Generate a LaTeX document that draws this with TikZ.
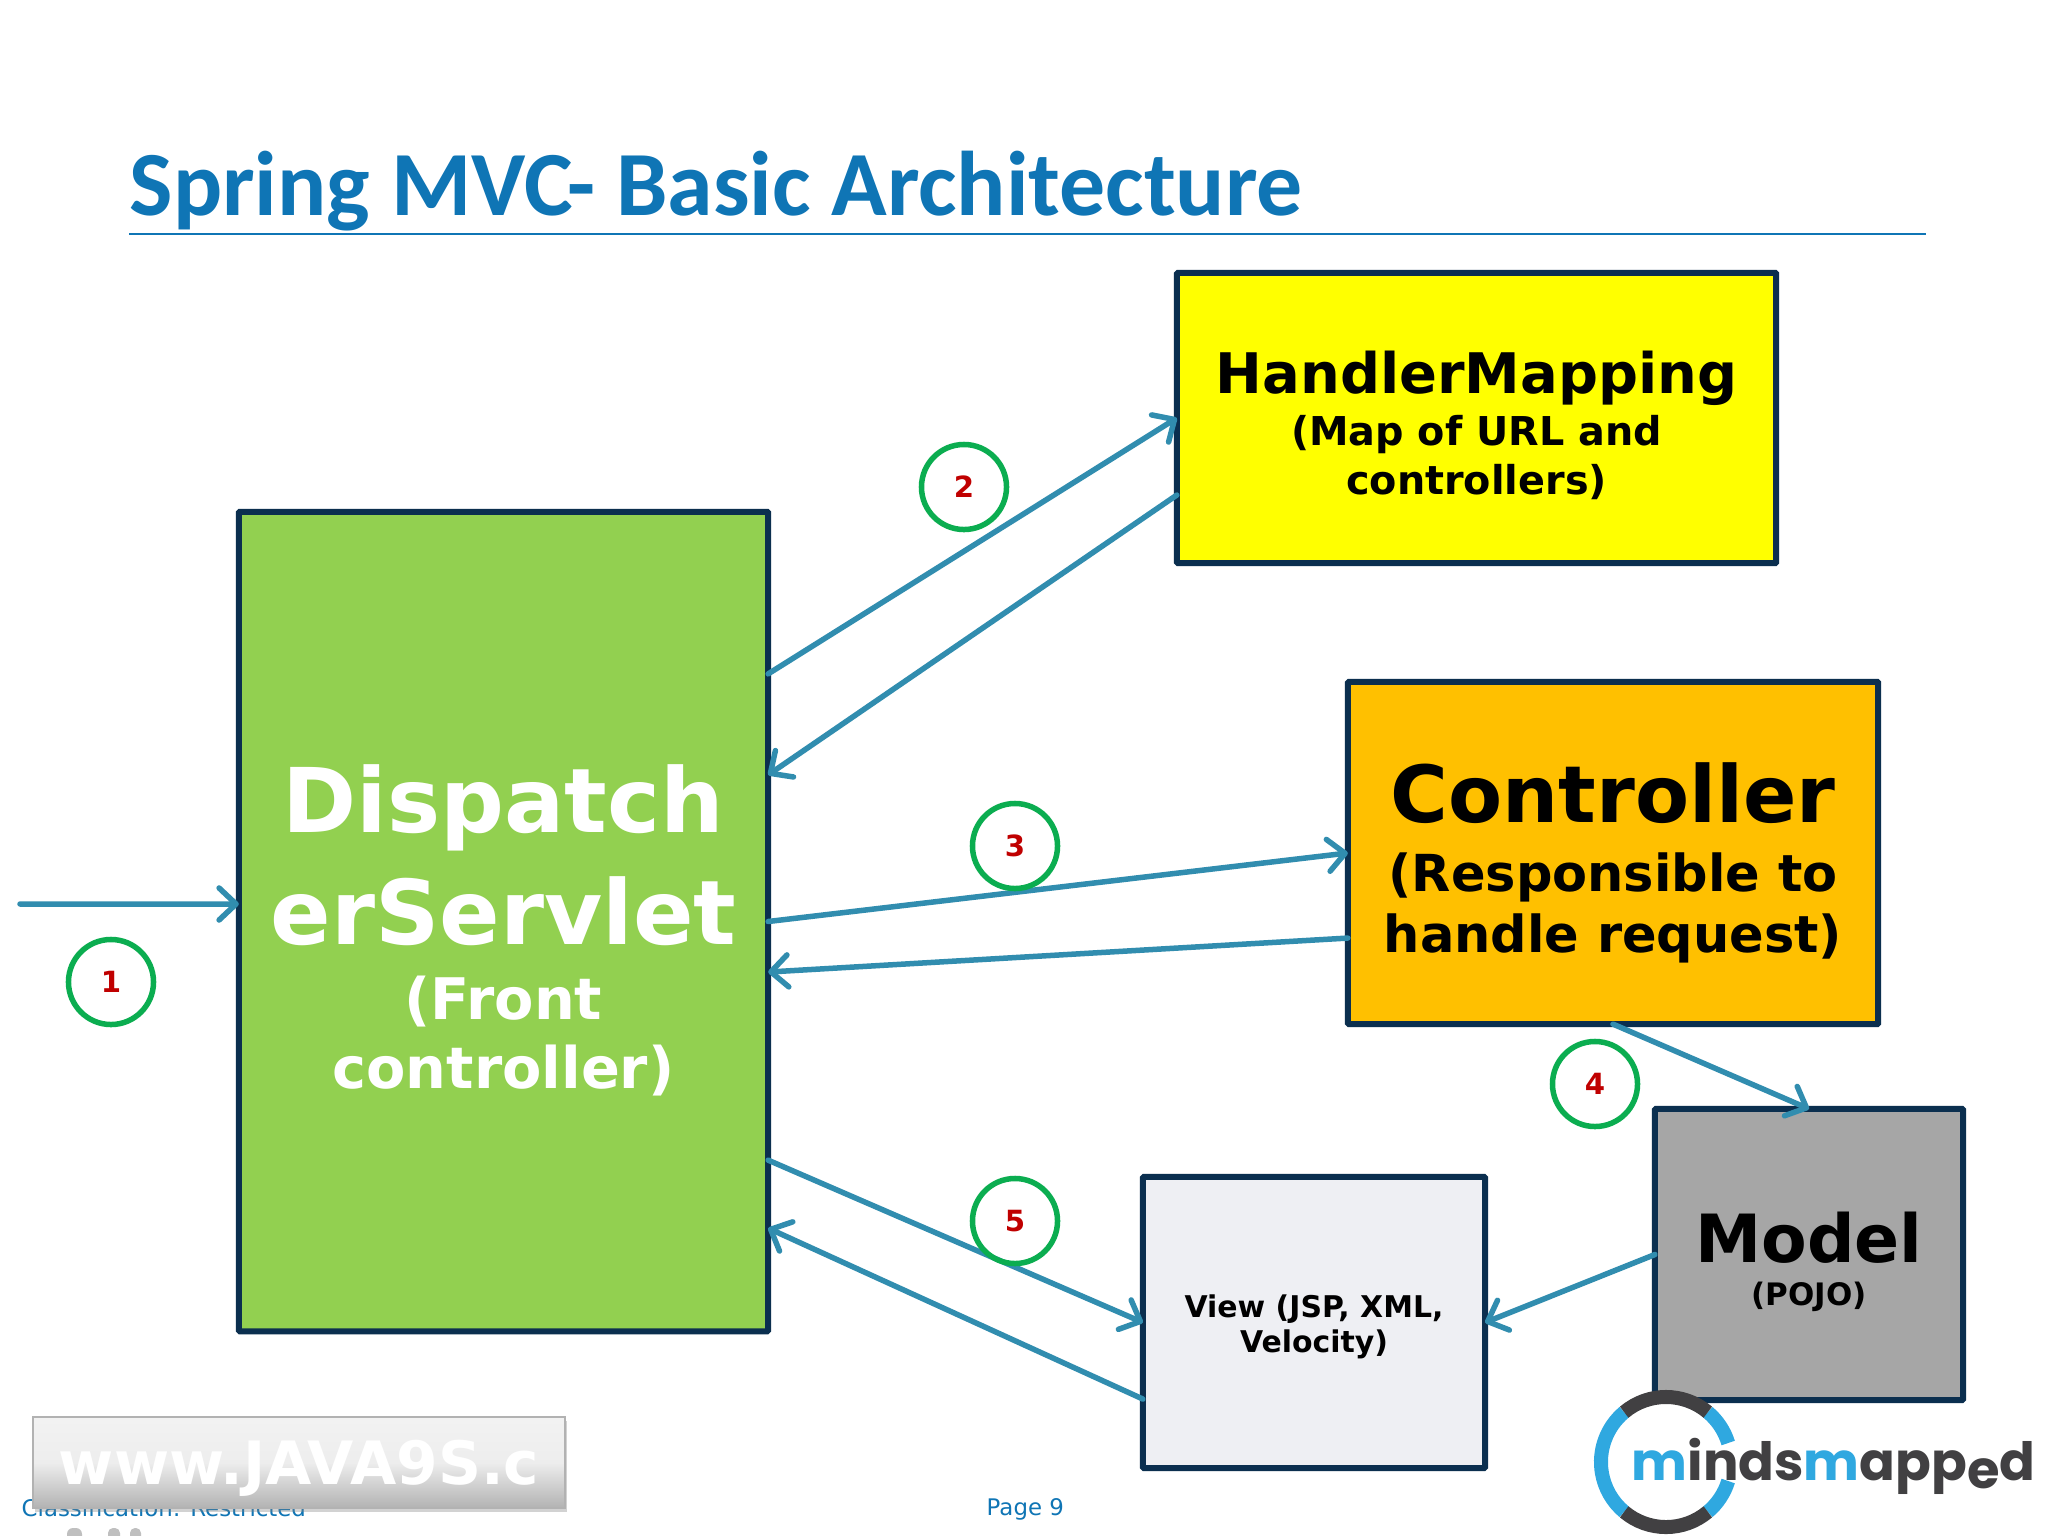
\documentclass[tikz,border=0pt]{standalone}
\usepackage{fontspec}
\setmainfont{DejaVu Sans}
\newfontfamily\titlefont{Carlito}
\newfontfamily\logofont{Poppins}
\usetikzlibrary{arrows.meta,calc,shadows}
\definecolor{titleblue}{HTML}{0F75B5}
\definecolor{edgeblue}{HTML}{318DAF}
\definecolor{boxline}{HTML}{0B2F4F}
\definecolor{stepgreen}{HTML}{0BAD50}
\definecolor{stepred}{HTML}{C00000}
\definecolor{logoblue}{HTML}{2FA8E0}
\definecolor{logodark}{HTML}{414042}
\definecolor{dispgreen}{HTML}{92D050}
\definecolor{hmyellow}{HTML}{FFFF00}
\definecolor{ctrlorange}{HTML}{FFC000}
\definecolor{modelgray}{HTML}{A6A6A6}
\definecolor{viewgray}{HTML}{EEEFF3}
\newcommand{\fsz}[1]{\fontsize{#1}{12}\selectfont}
\begin{document}
\begin{tikzpicture}[
    x=0.01cm, y=-0.01cm,
    box/.style={rectangle, draw=boxline, line width=0.06cm, outer sep=0pt, inner sep=0pt, align=center, font=\bfseries, rounded corners=0.01cm},
    conn/.style={draw=edgeblue, line width=0.055cm, line cap=round, -{Straight Barb[length=0.17cm,width=0.32cm,round]}},
    stepmark/.style={circle, draw=stepgreen, line width=0.055cm, minimum size=0.85cm, inner sep=0pt, text=stepred, font=\bfseries\fsz{8.3}},
    foot/.style={text=titleblue, inner sep=0pt, anchor=base west, font=\fsz{6.5}}
]
\useasboundingbox (0,0) rectangle (2048,1536);
\fill[white] (0,0) rectangle (2048,1536);

% Title
\node[anchor=base west, inner sep=0pt, text=titleblue, font=\titlefont\bfseries\fsz{26.1}] (title) at (129,215) {Spring MVC- Basic Architecture};
\coordinate (ruleL) at (129,234);
\coordinate (ruleR) at (1926,234);
\draw[titleblue, line width=0.012cm] (ruleL) -- (ruleR);

% Boxes (the font goes back to default after each \\, so each line sets its own)
\node[box, fill=dispgreen, text=white, minimum width=5.29cm, minimum height=8.19cm] (disp) at (503.5,921.5)
    {\rule{0pt}{0.855cm}\fsz{25.4}Dispatch\\[6.3pt]\fsz{25.4}erServlet\\[7.5pt]\fsz{16.3}(Front\\[4.1pt]\fsz{16.3}controller)};
\node[box, fill=hmyellow, minimum width=5.99cm, minimum height=2.90cm] (hm) at (1476.5,418)
    {\rule{0pt}{0.57cm}\fsz{15.9}HandlerMapping\\[1.85pt]\fsz{11.3}(Map of URL and\\[1.85pt]\fsz{11.3}controllers)};
\node[box, fill=ctrlorange, minimum width=5.30cm, minimum height=3.42cm] (ctrl) at (1613,853)
    {\rule{0pt}{0.79cm}\fsz{22.4}Controller\\[7.8pt]\fsz{14.5}(Responsible to\\[2.2pt]\fsz{14.5}handle request)};
\node[box, fill=modelgray, minimum width=3.08cm, minimum height=2.91cm] (model) at (1809,1254.5)
    {\rule{0pt}{0.65cm}\fsz{18.9}Model\\\fsz{8.8}(POJO)};
\node[box, fill=viewgray, minimum width=3.42cm, minimum height=2.91cm] (view) at (1314,1322.5)
    {\rule{0pt}{0.31cm}\fsz{8.5}View (JSP, XML,\\[-2.2pt]\fsz{8.5}Velocity)};

% Connectors
\coordinate (inlet) at (20,904);
\draw[conn] (inlet) -- ([yshift=0.175cm]disp.west);
\draw[conn] ([yshift=2.475cm]disp.east) -- (hm.west);
\draw[conn] ([yshift=-0.77cm]hm.west) -- ([yshift=1.465cm]disp.east);
\draw[conn] (disp.east) -- (ctrl.west);
\draw[conn] ([yshift=-0.85cm]ctrl.west) -- ([yshift=-0.505cm]disp.east);
\draw[conn] (ctrl.south) -- (model.north);
\draw[conn] (model.west) -- (view.east);
\draw[conn] ([yshift=-2.385cm]disp.east) -- (view.west);
\draw[conn] ([yshift=-0.765cm]view.west) -- ([yshift=-3.065cm]disp.east);

% Step markers
\node[stepmark] (s1) at (111,982) {1};
\node[stepmark] (s2) at (964,487) {2};
\node[stepmark] (s3) at (1015,846) {3};
\node[stepmark] (s4) at (1595,1084) {4};
\node[stepmark] (s5) at (1015,1221) {5};

% Footer
\node[foot] (cls) at (21,1516) {Classification: Restricted};
\node[foot] (page) at (986,1515) {Page 9};

% Bits of a logo cut off by the page edge
\fill[black!25, rounded corners=0.06cm] (67,1545) rectangle (82,1528);
\fill[black!25, rounded corners=0.05cm] (108,1545) rectangle (120,1528);
\fill[black!25, rounded corners=0.05cm] (130,1545) rectangle (141,1528);

% Watermark
\node[rectangle, minimum width=5.32cm, minimum height=0.91cm, inner sep=0pt, top color=white!95!black, bottom color=black!30, middle color=black!7, draw=black!30, line width=0.015cm,
      drop shadow={shadow xshift=0.02cm, shadow yshift=-0.04cm, opacity=0.35},
      text=white, text depth=0pt, font=\bfseries\fsz{17}] (wm) at (299,1462.5) {www.JAVA9S.c};

% Logo
\coordinate (rc) at (1666,1462);
\draw[logoblue, line width=0.14cm] ($(rc)+(130:0.65cm)$) arc[start angle=130, end angle=230, radius=0.65cm];
\draw[logoblue, line width=0.14cm] ($(rc)+(17:0.65cm)$) arc[start angle=17, end angle=50, radius=0.65cm];
\draw[logoblue, line width=0.14cm] ($(rc)+(-50:0.65cm)$) arc[start angle=-50, end angle=-17, radius=0.65cm];
\draw[logodark, line width=0.14cm] ($(rc)+(50:0.65cm)$) arc[start angle=50, end angle=130, radius=0.65cm];
\draw[logodark, line width=0.14cm] ($(rc)+(230:0.65cm)$) arc[start angle=230, end angle=310, radius=0.65cm];
\node[anchor=base west, inner sep=0pt, text=logodark, font=\logofont\bfseries\fsz{15}] (logo) at (1631,1480)
    {\textcolor{logoblue}{m}inds\textcolor{logoblue}{m}app\raisebox{-0.08cm}{e}d};
\end{tikzpicture}
\end{document}
